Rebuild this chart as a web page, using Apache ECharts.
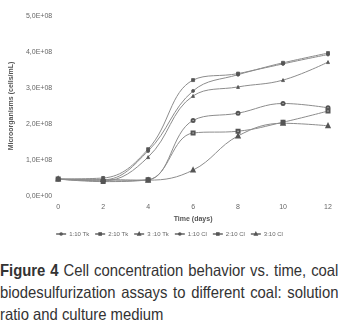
<!DOCTYPE html>
<html>
<head>
<meta charset="utf-8">
<script src="https://cdn.jsdelivr.net/npm/echarts@6/dist/echarts.min.js"></script>
<style>
  body { margin: 0; background: #fff; }
  #chart { position: absolute; left: 0; top: 0; width: 338px; height: 252px; }
  #caption {
    position: absolute; left: 0; top: 259px; width: 376px;
    transform: scaleX(0.9); transform-origin: left top;
    font-family: "Liberation Sans", Arial, sans-serif; font-size: 16.5px;
    line-height: 22px; color: #333; text-align: justify;
  }
</style>
</head>
<body>
<div id="chart"></div>
<div id="caption"><b>Figure 4</b> Cell concentration behavior vs. time, coal biodesulfurization assays to different coal: solution ratio and culture medium</div>
<script>
const days = [0, 2, 4, 6, 8, 10, 12];
const yTicks = ['0,0E+00', '1,0E+08', '2,0E+08', '3,0E+08', '4,0E+08', '5,0E+08'];
const names = ['1:10 Tk', '2:10 Tk', '3 :10 Tk', '1:10 Cl', '2:10 Cl', '3:10 Cl'];
const tk1 = [4.7e7, 4.2e7, 4.5e7, 2.1e8, 2.3e8, 2.57e8, 2.45e8];
const tk2 = [4.7e7, 4.0e7, 4.5e7, 1.75e8, 1.8e8, 2.05e8, 2.36e8];
const tk3 = [4.7e7, 4.6e7, 4.4e7, 7.2e7, 1.67e8, 2.02e8, 1.95e8];
const cl1 = [4.7e7, 4.5e7, 1.25e8, 2.92e8, 3.37e8, 3.67e8, 3.93e8];
const cl2 = [4.7e7, 5.0e7, 1.3e8, 3.22e8, 3.4e8, 3.7e8, 3.97e8];
const cl3 = [4.7e7, 4.2e7, 1.08e8, 2.78e8, 3.03e8, 3.22e8, 3.72e8];

const values = [tk1, tk2, tk3, cl1, cl2, cl3];
const symbols = ['emptyCircle', 'emptyRect', 'emptyTriangle', 'circle', 'rect', 'triangle'];

const chart = echarts.init(document.getElementById('chart'));
chart.setOption({
  animation: false,
  textStyle: { fontFamily: 'Liberation Sans, Arial, sans-serif' },
  grid: { left: 48, right: 10, top: 16, bottom: 56 },
  legend: {
    bottom: 10,
    left: 'center',
    itemWidth: 10,
    itemHeight: 2,
    itemGap: 5,
    textStyle: { fontSize: 6, color: '#666', padding: [0, 0, 0, -2] },
    data: names
  },
  xAxis: {
    type: 'value',
    min: 0, max: 12, interval: 2,
    name: 'Time (days)',
    nameLocation: 'middle',
    nameGap: 17,
    nameTextStyle: { fontSize: 7, fontWeight: 'bold', color: '#555' },
    axisLine: { show: false },
    axisTick: { show: false },
    splitLine: { show: false },
    axisLabel: { fontSize: 7, color: '#666', margin: 8 }
  },
  yAxis: {
    type: 'value',
    min: 0, max: 5e8, interval: 1e8,
    name: 'Microorganisms (cells/mL)',
    nameLocation: 'middle',
    nameGap: 40,
    nameTextStyle: { fontSize: 7, fontWeight: 'bold', color: '#555' },
    axisLine: { show: false },
    axisTick: { show: false },
    splitLine: { show: false },
    axisLabel: {
      fontSize: 7, color: '#666', margin: 6,
      formatter: (v) => yTicks[Math.round(v / 1e8)]
    }
  },
  series: names.map((n, i) => ({
    name: n,
    type: 'line',
    smooth: 0.4,
    symbol: symbols[i],
    symbolSize: 3,
    lineStyle: { color: '#8c8c8c', width: 1 },
    itemStyle: { color: '#555', borderColor: '#555', borderWidth: 0.8 },
    data: days.map((d, j) => [d, values[i][j]])
  }))
});
</script>
</body>
</html>
